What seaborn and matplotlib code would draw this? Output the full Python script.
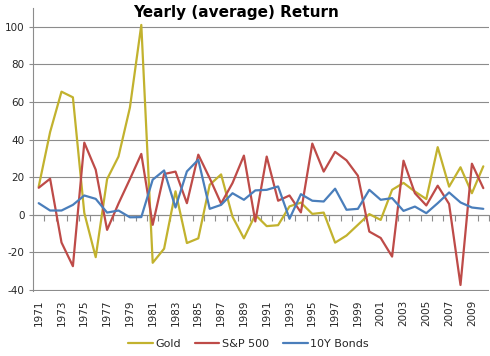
import matplotlib
matplotlib.use("Agg")
import matplotlib.pyplot as plt
import seaborn as sns
import pandas as pd
import numpy as np

years = list(range(1971, 2011))
gold = [15, 44, 65.5, 62.5, 1, -22.5, 19, 31, 57, 101,
        -25.5, -18, 12.5, -15, -12.5, 16, 21.5, -1, -12.5, 0,
        -6, -5.5, 4.5, 6.5, 0.5, 1.2, -14.8, -11, -5.3, 0.4,
        -2.7, 13.3, 17, 12.4, 8.4, 36, 15, 25.3, 11.5, 25.8]
sp500 = [14.4, 19.2, -14.7, -27.3, 38.4, 24, -8, 6, 19, 32.4,
         -5.3, 21.7, 23, 6.2, 32, 19.5, 6, 16.9, 31.5, -3.5,
         31, 7.5, 10.3, 1.3, 37.9, 23, 33.5, 29, 20.8, -8.9,
         -12.3, -22.2, 28.8, 11.5, 5, 15.5, 5.8, -37.3, 27.2, 14.2]
bonds = [6.2, 2.3, 2.3, 5.3, 10.3, 8.5, 1.2, 2.3, -1.3, -1.2,
         18.7, 23.6, 3.9, 23.1, 29.3, 3.2, 5.3, 11.5, 8, 13,
         13.3, 15.1, -2.1, 11, 7.5, 7.1, 13.9, 2.7, 3.2, 13.3,
         8, 8.9, 2.1, 4.4, 0.9, 6.2, 11.9, 6.6, 3.9, 3.2]
series_names = ["Gold", "S&P 500", "10Y Bonds"]
colors = ["#C2B22E", "#BE4B48", "#4A7EBB"]
yticks = [-40, -20, 0, 20, 40, 60, 80, 100]
xlabels = [str(y) for y in years[::2]]

df = pd.DataFrame({
    "Year": years * 3,
    "Return": gold + sp500 + bonds,
    "Series": [series_names[0]] * len(years) + [series_names[1]] * len(years) + [series_names[2]] * len(years),
})

sns.set_theme(style="white")
plt.rcParams['font.family'] = ['DejaVu Sans']

fig = plt.figure(figsize=(4.9, 3.56), dpi=100)
ax = fig.add_axes([33/490, 65/356, 456/490, 283/356])

sns.lineplot(data=df, x="Year", y="Return", hue="Series", hue_order=series_names,
             palette=colors, linewidth=1.6, ax=ax, legend=True)

ax.set_xlim(years[0] - 0.5, years[-1] + 0.5)
ax.set_ylim(-40.5, 110)
ax.set_yticks(yticks)
ax.set_yticklabels([str(t) for t in yticks])
ax.yaxis.grid(True, color="#8c8c8c", linewidth=0.8)
ax.set_axisbelow(True)
ax.tick_params(axis='y', which='major', length=3, width=0.8, color="#8c8c8c",
               labelsize=7.5, pad=3, left=True)
ax.set_xticks(years[::2])
ax.set_xticklabels(xlabels, rotation=90)
ax.tick_params(axis='x', which='major', length=0, labelsize=7.5, pad=6)
ax.set_xlabel("")
ax.set_ylabel("")
for s in ["top", "right", "bottom"]:
    ax.spines[s].set_visible(False)
ax.spines["left"].set_color("#8c8c8c")
ax.spines["left"].set_linewidth(0.8)

# category axis at y=0 with tick marks between categories
sec = ax.secondary_xaxis(0, transform=ax.transData)
sec.set_xticks([y + 0.5 for y in years])
sec.set_xticklabels([])
sec.tick_params(axis='x', length=4, width=0.8, color="#8c8c8c", direction='out')
sec.spines["bottom"].set_color("#8c8c8c")
sec.spines["bottom"].set_linewidth(0.8)

handles, labels = ax.get_legend_handles_labels()
ax.legend_.remove()
fig.legend(handles, labels, loc="center", bbox_to_anchor=(0.507, 0.034), ncol=3,
           frameon=False, fontsize=8, handlelength=2.2, handletextpad=0.2,
           columnspacing=1.3)

fig.text(0.482, 0.966, "Yearly (average) Return", ha="center", va="center",
         fontsize=11, fontweight="bold", color="black")

fig.savefig("out.png", dpi=100)
